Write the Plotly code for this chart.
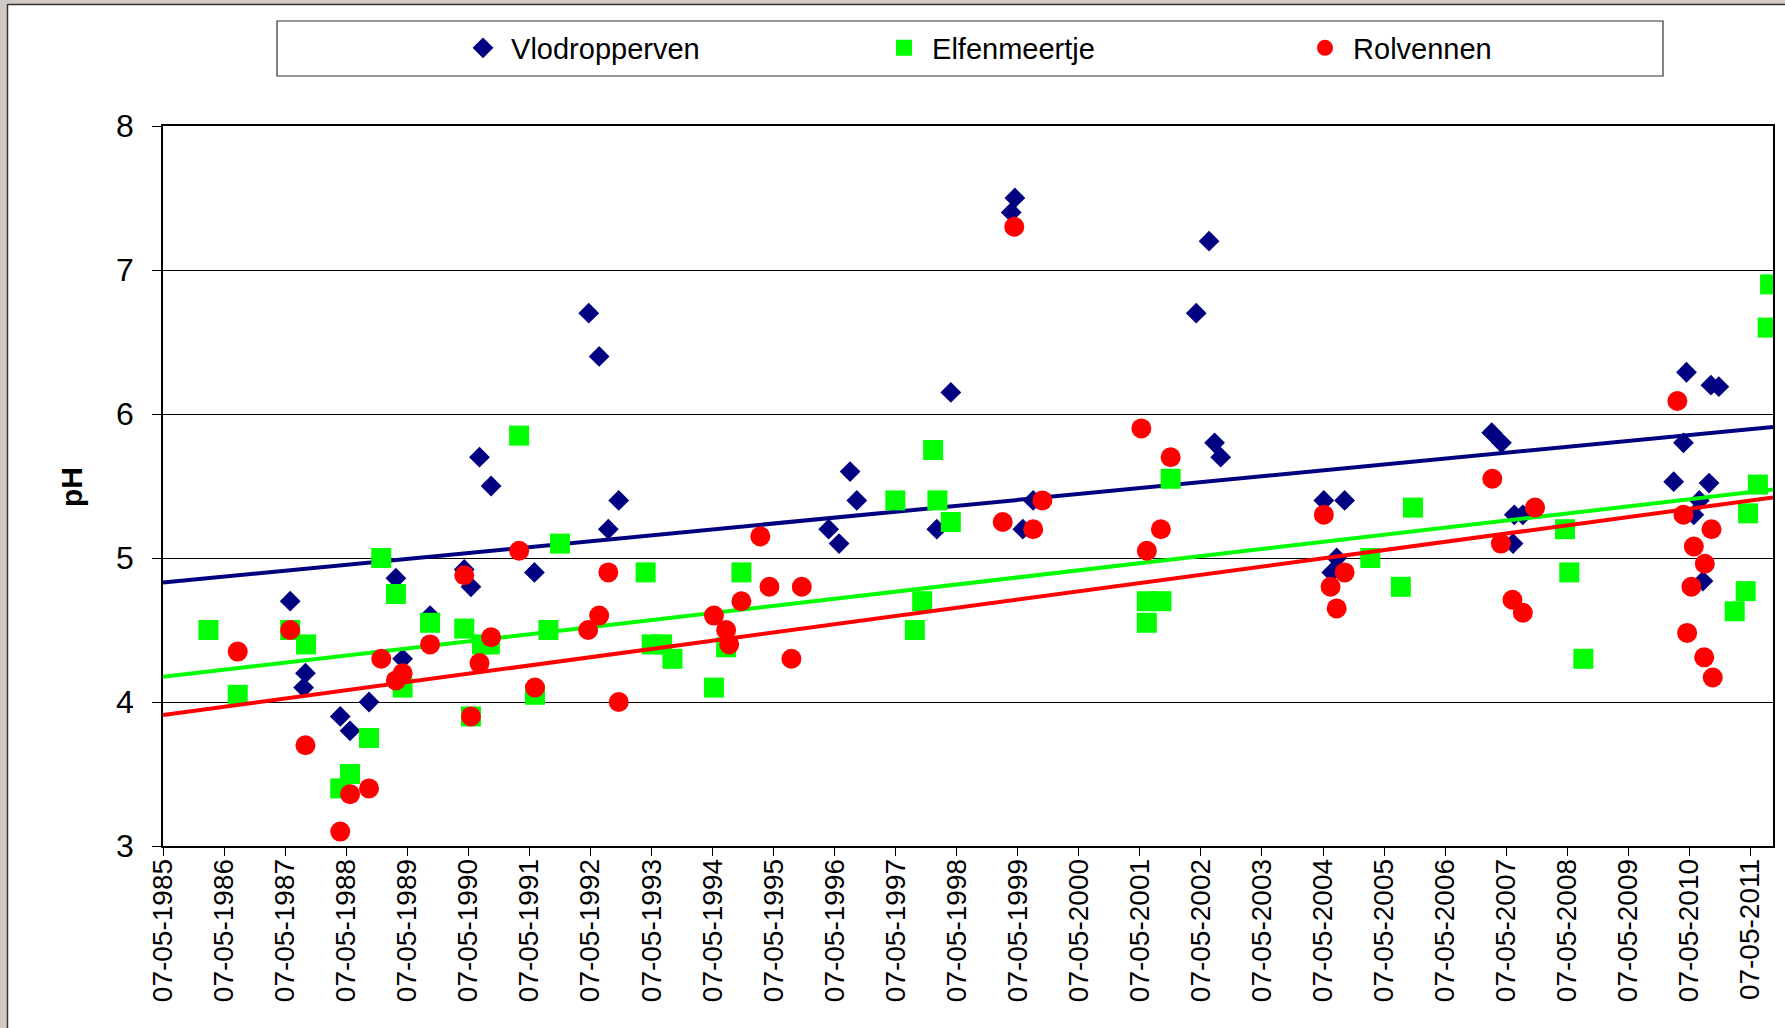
import numpy as np
import pandas as pd
import plotly.graph_objects as go

# ---------------- data (sampling moment as decimal year, pH) ----------------
vlodropperven_year = [1987.43, 1987.65, 1987.68, 1988.25, 1988.41, 1988.72, 1989.16, 1989.27,
                      1989.72, 1990.28, 1990.39, 1990.53, 1990.72, 1991.43, 1992.32, 1992.49,
                      1992.64, 1992.81, 1996.25, 1996.42, 1996.60, 1996.71, 1998.02, 1998.25,
                      1999.24, 1999.30, 1999.43, 1999.60, 2002.27, 2002.48, 2002.57, 2002.67,
                      2004.36, 2004.49, 2004.57, 2004.70, 2007.11, 2007.27, 2007.46, 2007.48,
                      2007.62, 2010.09, 2010.25, 2010.30, 2010.42, 2010.51, 2010.57, 2010.67,
                      2010.70, 2010.83]
vlodropperven_ph = [4.70, 4.10, 4.20, 3.90, 3.80, 4.00, 4.86, 4.30,
                    4.60, 4.92, 4.80, 5.70, 5.50, 4.90, 6.70, 6.40,
                    5.20, 5.40, 5.20, 5.10, 5.60, 5.40, 5.20, 6.15,
                    7.40, 7.50, 5.20, 5.40, 6.70, 7.20, 5.80, 5.70,
                    5.40, 4.90, 5.00, 5.40, 5.87, 5.80, 5.10, 5.30,
                    5.30, 5.53, 5.80, 6.29, 5.30, 5.40, 4.84, 5.52,
                    6.20, 6.19]

elfenmeertje_year = [1986.09, 1986.57, 1987.43, 1987.69, 1988.25, 1988.41, 1988.72, 1988.92,
                     1989.16, 1989.27, 1989.72, 1990.28, 1990.39, 1990.57, 1990.70, 1991.18,
                     1991.44, 1991.66, 1991.85, 1993.25, 1993.35, 1993.52, 1993.69, 1994.37,
                     1994.57, 1994.82, 1997.34, 1997.66, 1997.78, 1997.96, 1998.03, 1998.25,
                     2001.46, 2001.46, 2001.70, 2001.85, 2005.12, 2005.62, 2005.82, 2008.31,
                     2008.38, 2008.61, 2011.09, 2011.27, 2011.31, 2011.47, 2011.63, 2011.67]
elfenmeertje_ph = [4.50, 4.05, 4.50, 4.40, 3.40, 3.50, 3.75, 5.00,
                   4.75, 4.10, 4.55, 4.51, 3.90, 4.40, 4.40, 5.85,
                   4.05, 4.50, 5.10, 4.90, 4.40, 4.40, 4.30, 4.10,
                   4.38, 4.90, 5.40, 4.50, 4.70, 5.75, 5.40, 5.25,
                   4.70, 4.55, 4.70, 5.55, 5.00, 4.80, 5.35, 5.20,
                   4.90, 4.30, 4.63, 4.77, 5.31, 5.51, 6.60, 6.90]

rolvennen_year = [1986.57, 1987.43, 1987.68, 1988.25, 1988.41, 1988.72, 1988.92, 1989.16,
                  1989.27, 1989.72, 1990.28, 1990.39, 1990.53, 1990.72, 1991.18, 1991.44,
                  1992.31, 1992.49, 1992.64, 1992.81, 1994.37, 1994.57, 1994.62, 1994.82,
                  1995.13, 1995.28, 1995.64, 1995.81, 1999.10, 1999.29, 1999.60, 1999.75,
                  2001.37, 2001.46, 2001.69, 2001.85, 2004.36, 2004.47, 2004.57, 2004.70,
                  2007.12, 2007.26, 2007.45, 2007.62, 2007.82, 2010.15, 2010.25, 2010.31,
                  2010.38, 2010.42, 2010.59, 2010.60, 2010.71, 2010.73]
rolvennen_ph = [4.35, 4.50, 3.70, 3.10, 3.36, 3.40, 4.30, 4.15,
                4.20, 4.40, 4.88, 3.90, 4.27, 4.45, 5.05, 4.10,
                4.50, 4.60, 4.90, 4.00, 4.60, 4.50, 4.40, 4.70,
                5.15, 4.80, 4.30, 4.80, 5.25, 7.30, 5.20, 5.40,
                5.90, 5.05, 5.20, 5.70, 5.30, 4.80, 4.65, 4.90,
                5.55, 5.10, 4.71, 4.62, 5.35, 6.09, 5.30, 4.48,
                4.80, 5.08, 4.31, 4.96, 5.20, 4.17]

# linear trend lines as shown in the chart: pH at start and end of the axis
trend_start_ph = [4.83, 4.175, 3.91]
trend_end_ph = [5.91, 5.475, 5.42]

series_names = ["Vlodropperven", "Elfenmeertje", "Rolvennen"]
x_range = ["1985-05-07", "2011-09-20"]
y_range = [3, 8]
first_tick = "1985-05-07"


def to_dates(years):
    out = []
    for y in years:
        yr = int(y)
        start = pd.Timestamp(yr, 1, 1)
        end = pd.Timestamp(yr + 1, 1, 1)
        out.append(start + (end - start) * (y - yr))
    return pd.to_datetime(out)


# ---------------- layout helpers ----------------
W, H = 1785, 1028
ML, MR, MT, MB = 163, 12, 126, 182
PW, PH_ = W - ML - MR, H - MT - MB


def px(xpix):
    return (xpix - ML) / PW


def py(ypix):
    return (H - MB - ypix) / PH_


FONT = "Arial, Liberation Sans, sans-serif"
colors = ["#000080", "#00FF00", "#FF0000"]
symbols = ["diamond", "square", "circle"]
sizes = [16, 20, 20]

fig = go.Figure()
xs = [vlodropperven_year, elfenmeertje_year, rolvennen_year]
ys = [vlodropperven_ph, elfenmeertje_ph, rolvennen_ph]

for i, (name, xv, yv, c, s, sz) in enumerate(zip(series_names, xs, ys, colors, symbols, sizes)):
    d = to_dates(xv)
    fig.add_trace(go.Scatter(x=d, y=yv, mode="markers", name="\u00a0" + name,
                             marker=dict(symbol=s, color=c, size=sz, line=dict(width=0))))
    fig.add_trace(go.Scatter(x=x_range, y=[trend_start_ph[i], trend_end_ph[i]], mode="lines",
                             line=dict(color=c, width=4), showlegend=False,
                             hoverinfo="skip"))

shapes = [
    # outer frame (grey window border on left and top)
    dict(type="rect", xref="paper", yref="paper", x0=px(0), x1=px(7), y0=py(H), y1=py(0),
         fillcolor="#cfcac4", line=dict(width=0), layer="above"),
    dict(type="rect", xref="paper", yref="paper", x0=px(0), x1=px(W), y0=py(4), y1=py(0),
         fillcolor="#cfcac4", line=dict(width=0), layer="above"),
    dict(type="line", xref="paper", yref="paper", x0=px(7.5), x1=px(7.5), y0=py(H), y1=py(4),
         line=dict(color="#333333", width=1.5), layer="above"),
    dict(type="line", xref="paper", yref="paper", x0=px(7.5), x1=px(W), y0=py(4.5), y1=py(4.5),
         line=dict(color="#333333", width=1.5), layer="above"),
    # legend box
    dict(type="rect", xref="paper", yref="paper", x0=px(277), x1=px(1663), y0=py(76), y1=py(21),
         fillcolor="rgba(0,0,0,0)", line=dict(color="#333333", width=1.2), layer="above"),
]

fig.update_layout(
    width=W, height=H,
    margin=dict(l=ML, r=MR, t=MT, b=MB, autoexpand=False),
    paper_bgcolor="white", plot_bgcolor="white",
    font=dict(family=FONT, color="black"),
    showlegend=True,
    legend=dict(orientation="h", x=px(463), xanchor="left", y=py(48), yanchor="middle",
                font=dict(size=29, family=FONT), bgcolor="rgba(0,0,0,0)",
                entrywidth=376, entrywidthmode="pixels", itemsizing="trace"),
    xaxis=dict(type="date", range=x_range, tick0=first_tick, dtick="M12",
               tickformat="%d-%m-%Y", tickangle=-90, tickfont=dict(size=28, family=FONT),
               ticks="outside", ticklen=8, tickcolor="black", showgrid=False,
               ticklabelstandoff=-8,
               showline=True, linecolor="black", linewidth=1.5, mirror=True, zeroline=False),
    yaxis=dict(range=y_range, dtick=1, tickfont=dict(size=32, family=FONT),
               ticks="outside", ticklen=9, tickcolor="black", showgrid=True,
               ticklabelstandoff=12,
               gridcolor="black", gridwidth=1, showline=True, linecolor="black",
               linewidth=1.5, mirror=True, zeroline=False),
    shapes=shapes,
    annotations=[dict(text="<b>pH</b>", xref="paper", yref="paper", x=px(71), y=py(487),
                      xanchor="center", yanchor="middle",
                      textangle=-90, showarrow=False, font=dict(size=30, family=FONT))],
)

fig.write_html("out.html", post_script="document.body.style.margin='0px';",
               config={"displayModeBar": False})
